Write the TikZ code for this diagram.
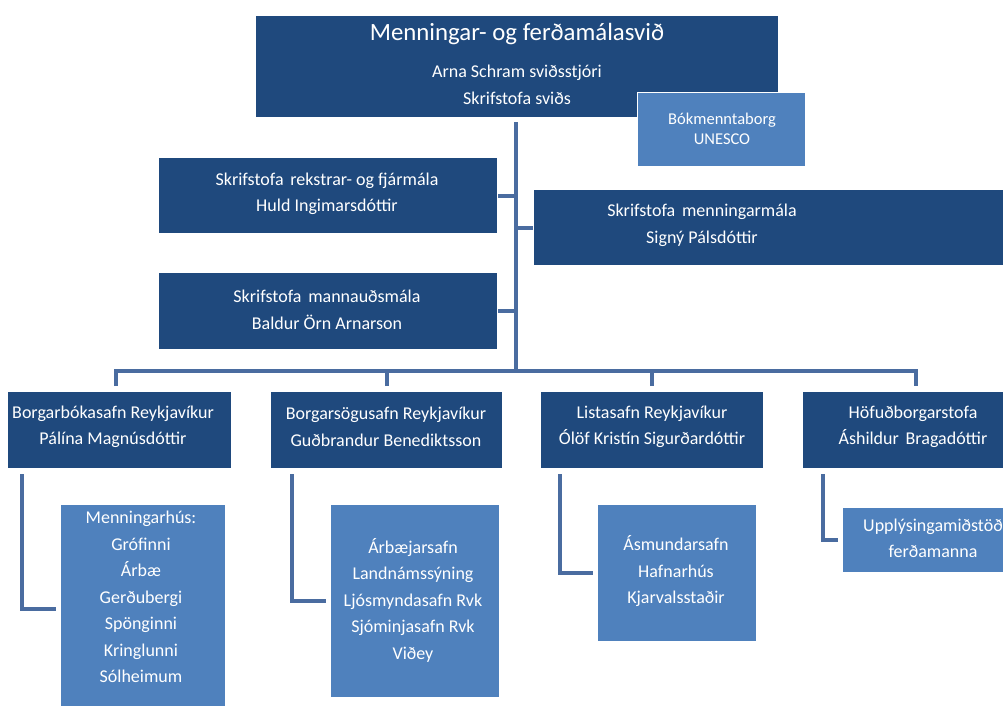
\documentclass[tikz,border=0pt]{standalone}
\usepackage{fontspec}
\setmainfont{Carlito}
\definecolor{dkblue}{RGB}{31,73,125}
\definecolor{ltblue}{RGB}{79,129,189}
\definecolor{lnblue}{RGB}{74,108,160}
\begin{document}
\begin{tikzpicture}[x=1pt,y=-1pt,
  dbox/.style={fill=dkblue, draw=white, line width=1pt, inner sep=0pt, anchor=north west},
  lbox/.style={fill=ltblue, draw=white, line width=1pt, inner sep=0pt, anchor=north west},
  txt/.style={text=white, inner sep=0pt, align=center, font=\fontsize{18}{26.5}\selectfont},
  conn/.style={draw=lnblue, line width=4pt, line cap=butt, line join=miter}]
\useasboundingbox (0,0) rectangle (1003,705);
\clip (0,0) rectangle (1003,705);

% boxes
\node[dbox, minimum width=523, minimum height=102] (top) at (255,15) {};
\node[lbox, minimum width=168, minimum height=74] (bok) at (637,92) {};
\node[dbox, minimum width=339, minimum height=76] (rek) at (158,157) {};
\node[dbox, minimum width=477, minimum height=76] (sig) at (533,189) {};
\node[dbox, minimum width=339, minimum height=77] (man) at (158,272) {};
\node[dbox, minimum width=224, minimum height=77] (b1) at (7,391) {};
\node[dbox, minimum width=232, minimum height=77] (b2) at (270,391) {};
\node[dbox, minimum width=223, minimum height=77] (b3) at (540,391) {};
\node[dbox, minimum width=222, minimum height=77] (b4) at (802,391) {};
\node[lbox, minimum width=165, minimum height=208] (c1) at (60,504) {};
\node[lbox, minimum width=169, minimum height=193] (c2) at (330,504) {};
\node[lbox, minimum width=159, minimum height=137] (c3) at (597,504) {};
\node[lbox, minimum width=182, minimum height=65] (c4) at (842,507) {};

% texts
\node[txt, font=\fontsize{24.8}{30}\selectfont] (ttitle) at (517,34) {Menningar- og ferðamálasvið};
\node[txt] (tsub) at (517,85) {Arna Schram sviðsstjóri\\Skrifstofa sviðs};
\node[txt, font=\fontsize{16.5}{19.5}\selectfont] (tbok) at (722,129) {Bókmenntaborg\\UNESCO};
\node[txt] (trek) at (327,194) {Skrifstofa\hspace{0.15em} rekstrar- og fjármála\\Huld Ingimarsdóttir};
\node[txt] (tsig) at (702,225.5) {Skrifstofa\hspace{0.15em} menningarmála\\Signý Pálsdóttir};
\node[txt] (tman) at (327,310) {Skrifstofa\hspace{0.15em} mannauðsmála\\Baldur Örn Arnarson};
\node[txt] (tb1) at (113,427) {Borgarbókasafn Reykjavíkur\\Pálína Magnúsdóttir};
\node[txt] (tb2) at (386,427) {Borgarsögusafn Reykjavíkur\\Guðbrandur Benediktsson};
\node[txt] (tb3) at (652,427) {Listasafn Reykjavíkur\\Ólöf Kristín Sigurðardóttir};
\node[txt] (tb4) at (913,427) {Höfuðborgarstofa\\Áshildur\hspace{0.15em} Bragadóttir};
\node[txt] (tc1) at (141,597) {Menningarhús:\\Grófinni\\Árbæ\\Gerðubergi\\Spönginni\\Kringlunni\\Sólheimum};
\node[txt] (tc2) at (413,600) {Árbæjarsafn\\Landnámssýning\\Ljósmyndasafn Rvk\\Sjóminjasafn Rvk\\Viðey};
\node[txt] (tc3) at (676,571.5) {Ásmundarsafn\\Hafnarhús\\Kjarvalsstaðir};
\node[txt] (tc4) at (933,538.5) {Upplýsingamiðstöð\\ferðamanna};

% connectors
\coordinate (tr0) at (516,122);
\coordinate (tr1) at (516,371);
\draw[conn] (tr0) -- (tr1);
\draw[conn] (rek.east) -- (rek.east -| tr0);
\draw[conn] (sig.west) -- (sig.west -| tr0);
\draw[conn] (man.east) -- (man.east -| tr0);
\draw[conn] ([xshift=-4pt,yshift=5pt]b1.north) -- ([xshift=-4pt]b1.north |- tr1) -- ([xshift=2pt]b4.north |- tr1) -- ([xshift=2pt,yshift=5pt]b4.north);
\draw[conn] ([yshift=5pt]b2.north) -- (b2.north |- tr1);
\draw[conn] ([yshift=5pt]b3.north) -- (b3.north |- tr1);
\draw[conn, shorten >=4pt] ([xshift=15pt,yshift=-5pt]b1.south west) |- (c1.west);
\draw[conn, shorten >=4pt] ([xshift=22pt,yshift=-5pt]b2.south west) |- (c2.west);
\draw[conn, shorten >=4pt] ([xshift=20pt,yshift=-5pt]b3.south west) |- (c3.west);
\draw[conn, shorten >=4pt] ([xshift=21pt,yshift=-5pt]b4.south west) |- (c4.west);
\end{tikzpicture}
\end{document}
